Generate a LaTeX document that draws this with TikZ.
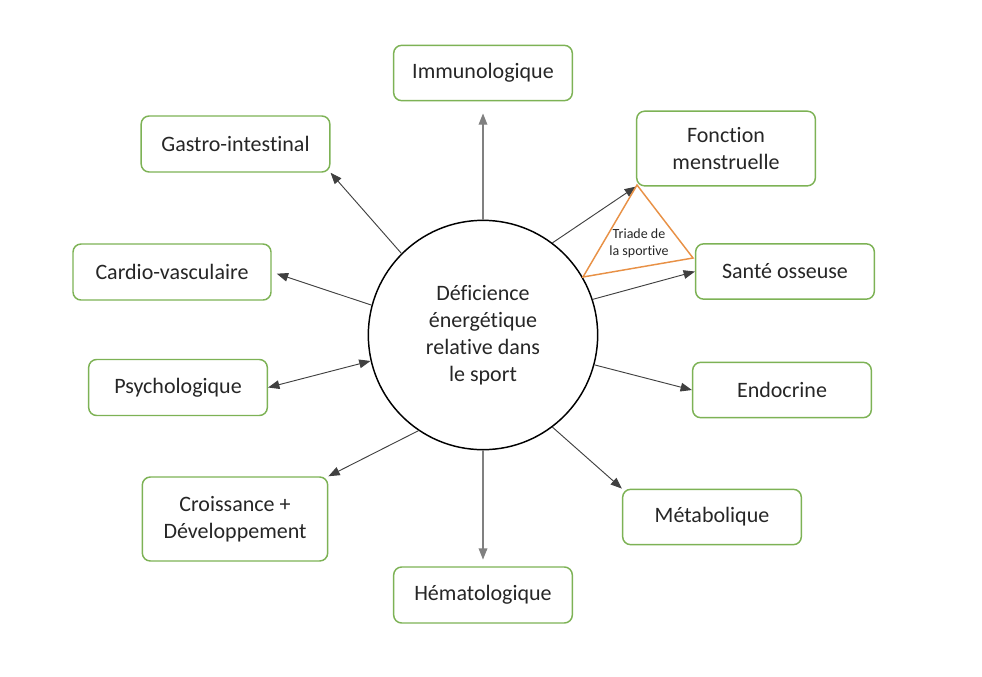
\documentclass[tikz,border=0pt]{standalone}
\usepackage{fontspec}
\setmainfont{Carlito}[Ligatures=NoCommon]
\usetikzlibrary{arrows.meta}
\definecolor{vertboite}{RGB}{125,178,85}
\definecolor{orangetriade}{RGB}{232,145,70}
\tikzset{>={Triangle[length=8.5pt,width=6.5pt]}}

\begin{document}
\begin{tikzpicture}[x=0.75pt,y=-0.75pt,
        organe/.style={draw=vertboite,line width=1.1pt,rounded corners=6pt,minimum width=134pt,minimum height=41.5pt,align=center,text=black!85,font=\fontsize{16.5}{20}\selectfont},
        lien/.style={->,draw=black!75,line width=0.7pt}]
    \useasboundingbox (0,0) rectangle (982,676);
    \node[circle,draw,line width=1.1pt,minimum size=172pt,align=center,text=black!85,font=\fontsize{16.5}{20.25}\selectfont] (deficience) at (483,335) {Déficience\\énergétique\\relative dans\\le sport};
    \node[organe] (immuno) at (483,73) {Immunologique};
    \node[organe,minimum width=141.5pt,minimum height=42pt] (gastro) at (235.5,144) {Gastro-intestinal};
    \node[organe,minimum height=56pt] (menstruelle) at (726,148.5) {Fonction\\menstruelle};
    \node[organe,minimum width=148.5pt,minimum height=42pt] (cardio) at (172,272) {Cardio-vasculaire};
    \node[organe] (osseuse) at (785,271.5) {Santé osseuse};
    \node[organe,minimum height=42pt] (psycho) at (178,387.5) {Psychologique};
    \node[organe] (endocrine) at (782,390) {Endocrine};
    \node[organe,minimum width=139pt,minimum height=63pt] (croissance) at (235,519) {Croissance +\\Développement};
    \node[organe] (metabolique) at (712,517) {Métabolique};
    \node[organe,minimum height=42pt] (hemato) at (483,595) {Hématologique};
    \draw[lien,draw=black!50,line width=1.1pt,shorten >=9pt] (deficience.90) -- (immuno.south);
    \draw[lien] (deficience.135) -- (gastro.south east);
    \draw[lien,shorten >=4pt] (deficience.165.6) -- (cardio.east);
    \draw[lien,<->] (deficience.193.3) -- (psycho.east);
    \draw[lien] (deficience.236) -- (croissance.north east);
    \draw[lien,draw=black!50,line width=1.1pt,shorten >=5pt] (deficience.270) -- (hemato.north);
    \draw[lien] (deficience.307.6) -- (metabolique.north west);
    \draw[lien] (deficience.345.7) -- (endocrine.west);
    \draw[lien] (deficience.18.7) -- (osseuse.west);
    \draw[lien] (deficience.53.4) -- (menstruelle.south west);
    \draw[orangetriade,line width=1.1pt] (637,185) -- (583,277) -- (693,258) -- cycle;
    \node[align=center,text=black!85,font=\fontsize{10.5}{12.75}\selectfont] (triade) at (639,243) {Triade de\\la sportive};
\end{tikzpicture}
\end{document}
